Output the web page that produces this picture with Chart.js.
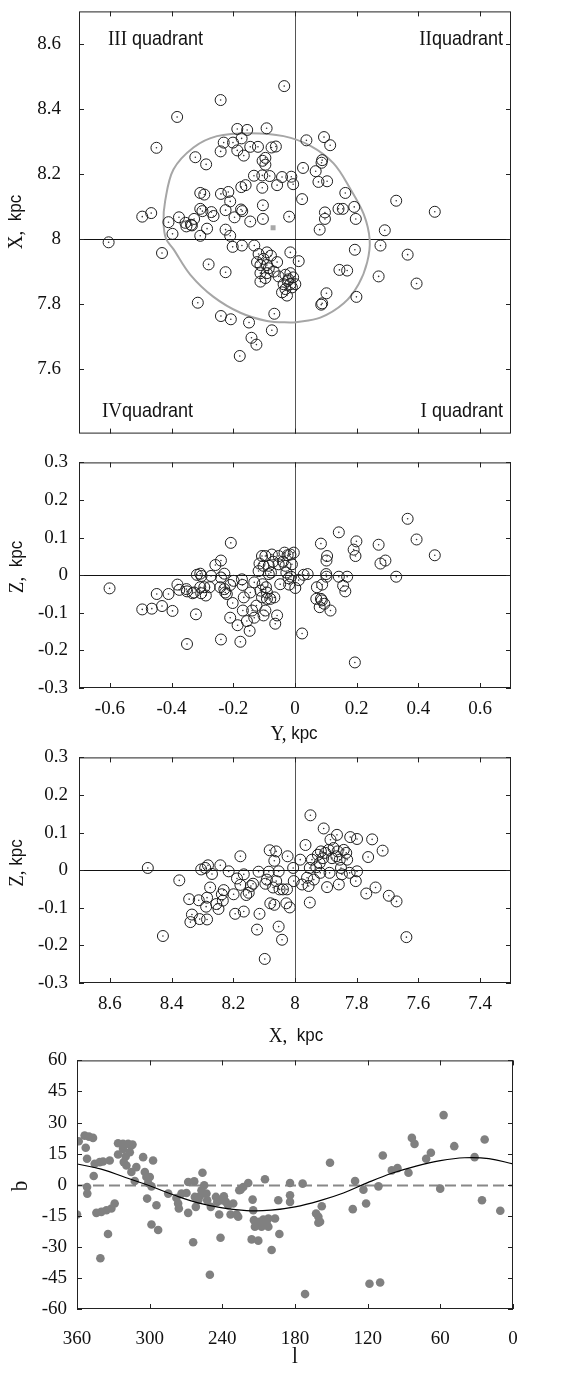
<!DOCTYPE html>
<html>
<head>
<meta charset="utf-8">
<script src="https://cdn.jsdelivr.net/npm/chart.js@4.4.1/dist/chart.umd.min.js"></script>
<style>
  body { margin: 0; background: #fff; width: 587px; height: 1380px; position: relative; overflow: hidden; }
  canvas { position: absolute; left: 0; }
</style>
</head>
<body>
<canvas id="pXY" width="587" height="481" style="top:-18px"></canvas>
<canvas id="pYZ" width="587" height="305" style="top:440px"></canvas>
<canvas id="pXZ" width="587" height="310" style="top:735px"></canvas>
<canvas id="pLB" width="587" height="341" style="top:1039px"></canvas>
<script>
/* tick labels */
var yTicks = [-0.6, -0.4, -0.2, 0, 0.2, 0.4, 0.6];
var xTicksTop = [7.6, 7.8, 8, 8.2, 8.4, 8.6];
var zTicks = [-0.3, -0.2, -0.1, 0, 0.1, 0.2, 0.3];
var xTicks = [7.4, 7.6, 7.8, 8, 8.2, 8.4, 8.6];
var lTicks = [0, 60, 120, 180, 240, 300, 360];
var bTicks = [-60, -45, -30, -15, 0, 15, 30, 45, 60];

/* top panel: [Y, X] in kpc */
var yxStars = [
  [-0.035,8.47],[-0.241,8.427],[-0.382,8.375],[-0.449,8.28],[-0.187,8.338],[-0.155,8.335],[-0.092,8.34],
  [-0.173,8.309],[0.037,8.303],[0.094,8.313],[0.114,8.288],[-0.231,8.296],[-0.201,8.296],[-0.241,8.269],
  [-0.187,8.272],[-0.145,8.283],[-0.12,8.283],[-0.076,8.281],[-0.062,8.284],[-0.166,8.256],[-0.323,8.251],
  [-0.288,8.229],[-0.105,8.24],[-0.096,8.249],[-0.096,8.228],[0.088,8.242],[0.086,8.234],[0.026,8.218],
  [0.067,8.208],[0.104,8.177],[0.076,8.175],[-0.133,8.194],[-0.106,8.195],[-0.082,8.193],[-0.042,8.19],
  [-0.012,8.191],[-0.006,8.168],[-0.058,8.165],[-0.106,8.157],[-0.16,8.165],[-0.174,8.159],[-0.216,8.144],
  [-0.24,8.138],[-0.21,8.115],[-0.307,8.141],[-0.294,8.136],[-0.307,8.092],[-0.3,8.085],[-0.271,8.082],
  [-0.264,8.07],[-0.225,8.088],[-0.196,8.066],[-0.175,8.09],[-0.171,8.085],[-0.145,8.053],[-0.104,8.103],
  [-0.104,8.061],[-0.019,8.068],[0.023,8.122],[0.141,8.092],[0.155,8.092],[0.192,8.098],[0.197,8.061],
  [0.097,8.081],[0.097,8.061],[0.163,8.141],[0.328,8.117],[0.453,8.083],[-0.495,8.068],[-0.466,8.079],
  [-0.41,8.051],[-0.376,8.066],[-0.355,8.049],[-0.337,8.043],[-0.327,8.061],[-0.285,8.031],[-0.225,8.028],
  [0.08,8.028],[0.291,8.026],[-0.604,7.989],[-0.397,8.015],[-0.352,8.038],[-0.334,8.041],[-0.307,8.009],
  [-0.21,8.009],[-0.202,7.975],[-0.172,7.979],[-0.132,7.979],[0.277,7.979],[0.365,7.951],[0.394,7.862],
  [0.194,7.966],[0.144,7.904],[0.169,7.902],[0.271,7.884],[0.102,7.832],[0.088,7.801],[0.085,7.797],
  [0.199,7.821],[0.012,7.931],[-0.015,7.958],[-0.431,7.956],[-0.28,7.921],[-0.225,7.897],[-0.315,7.803],
  [-0.24,7.762],[-0.208,7.752],[-0.149,7.742],[-0.141,7.695],[-0.125,7.674],[-0.179,7.639],[-0.075,7.718],
  [-0.067,7.769],[-0.118,7.953],[-0.091,7.958],[-0.078,7.948],[-0.102,7.938],[-0.112,7.919],[-0.091,7.919],
  [-0.058,7.928],[-0.112,7.894],[-0.091,7.894],[-0.069,7.899],[-0.053,7.884],[-0.112,7.868],[-0.085,7.909],
  [-0.123,7.928],[-0.096,7.879],[-0.031,7.889],[-0.015,7.894],[-0.021,7.875],[-0.037,7.86],[-0.015,7.86],
  [0.001,7.86],[-0.031,7.845],[-0.042,7.835],[-0.026,7.825],[-0.01,7.85],[-0.024,7.87],[-0.006,7.881]
];
var yxMean = [[-0.071, 8.034]];
// read around the grey ellipse, starting and ending at its lowest point
var yxEllipse = [
  [-0.004,7.742],[-0.091,7.747],[-0.177,7.772],[-0.264,7.821],[-0.339,7.889],[-0.394,7.968],[-0.418,8.0],
  [-0.426,8.05],[-0.421,8.115],[-0.394,8.213],[-0.329,8.281],[-0.253,8.316],[-0.145,8.325],[-0.037,8.316],
  [0.05,8.286],[0.125,8.232],[0.179,8.154],[0.223,8.075],[0.242,7.997],[0.234,7.928],[0.206,7.86],
  [0.158,7.801],[0.082,7.757],[-0.004,7.742]
];

/* second panel: [Y, Z] */
var yzStars = [
  [-0.601,-0.035],[-0.495,-0.091],[-0.464,-0.089],[-0.431,-0.082],[-0.448,-0.05],[-0.41,-0.05],[-0.397,-0.095],
  [-0.381,-0.025],[-0.375,-0.039],[-0.35,-0.183],[-0.352,-0.037],[-0.332,-0.048],[-0.327,-0.046],[-0.321,-0.104],
  [-0.318,0.001],[-0.307,0.004],[-0.303,-0.002],[-0.307,-0.032],[-0.294,-0.032],[-0.289,-0.054],[-0.304,-0.048],
  [-0.272,-0.002],[-0.277,-0.032],[-0.258,0.027],[-0.24,0.039],[-0.24,-0.006],[-0.229,0.004],[-0.242,-0.032],
  [-0.226,-0.046],[-0.221,-0.05],[-0.208,0.086],[-0.21,-0.026],[-0.202,-0.074],[-0.21,-0.113],[-0.24,-0.171],
  [-0.199,-0.015],[-0.186,-0.133],[-0.177,-0.177],[-0.172,-0.011],[-0.17,-0.026],[-0.166,-0.059],[-0.169,-0.094],
  [-0.156,-0.122],[-0.147,-0.148],[-0.145,-0.046],[-0.139,-0.094],[-0.132,-0.019],[-0.132,-0.113],[-0.125,-0.081],
  [-0.118,0.011],[-0.115,0.031],[-0.107,0.051],[-0.107,-0.059],[-0.102,-0.107],[-0.096,0.051],[-0.094,-0.032],
  [-0.091,-0.063],[-0.096,-0.094],[-0.085,0.025],[-0.085,0.003],[-0.08,-0.063],[-0.075,0.055],[-0.071,0.036],
  [-0.067,-0.059],[-0.064,-0.129],[-0.058,-0.107],[-0.053,0.029],[-0.048,-0.024],[-0.039,0.036],[-0.034,0.06],
  [-0.031,0.025],[-0.028,0.007],[-0.024,0.053],[-0.021,-0.008],[-0.019,-0.025],[-0.015,0.055],[-0.013,-0.004],
  [-0.01,0.029],[-0.004,0.06],[0.001,-0.034],[0.012,-0.013],[0.023,-0.155],[0.028,0.001],[0.041,0.003],
  [0.071,-0.032],[0.069,-0.063],[0.084,0.084],[0.088,-0.025],[0.084,-0.063],[0.087,-0.067],[0.08,-0.085],
  [0.095,-0.076],[0.101,0.003],[0.104,0.051],[0.102,0.039],[0.102,-0.004],[0.115,-0.094],[0.142,0.114],
  [0.142,-0.004],[0.156,-0.028],[0.163,-0.043],[0.169,-0.004],[0.19,0.068],[0.199,0.09],[0.196,0.051],
  [0.194,-0.232],[0.271,0.081],[0.277,0.031],[0.293,0.039],[0.328,-0.004],[0.365,0.15],[0.394,0.095],
  [0.453,0.053],[-0.35,-0.043],[-0.229,-0.037],[-0.112,-0.041],[-0.105,-0.024],[-0.091,-0.046],[-0.078,0.007],
  [-0.102,0.025],[-0.053,0.051]
];

/* third panel: [X, Z] */
var xzStars = [
  [8.477,0.006],[8.428,-0.175],[8.375,-0.027],[8.343,-0.077],[8.334,-0.118],[8.339,-0.138],[8.312,-0.08],
  [8.309,-0.13],[8.304,0.002],[8.291,0.006],[8.282,0.013],[8.285,-0.073],[8.288,-0.097],[8.285,-0.131],
  [8.275,-0.046],[8.269,-0.01],[8.255,-0.09],[8.248,-0.103],[8.242,0.013],[8.237,-0.064],[8.231,-0.053],
  [8.234,-0.081],[8.215,-0.003],[8.199,-0.064],[8.194,-0.116],[8.188,-0.022],[8.177,0.037],[8.177,-0.039],
  [8.166,-0.011],[8.166,-0.11],[8.158,-0.066],[8.15,-0.06],[8.143,-0.042],[8.136,-0.036],[8.123,-0.158],
  [8.118,-0.004],[8.115,-0.116],[8.098,-0.236],[8.096,-0.036],[8.091,-0.025],[8.085,-0.004],[8.082,0.053],
  [8.08,-0.088],[8.071,-0.046],[8.067,-0.092],[8.067,0.025],[8.061,0.05],[8.061,-0.029],[8.053,-0.15],
  [8.05,-0.051],[8.042,-0.185],[8.039,-0.051],[8.028,-0.088],[8.024,0.037],[8.026,-0.051],[8.017,-0.099],
  [8.006,0.006],[8.004,-0.029],[7.983,0.028],[7.977,-0.038],[7.966,0.067],[7.961,-0.02],[7.956,-0.042],
  [7.952,0.006],[7.95,0.146],[7.952,-0.086],[7.945,0.028],[7.939,-0.025],[7.931,0.008],[7.926,0.041],
  [7.92,0.019],[7.916,0.05],[7.909,0.032],[7.907,0.111],[7.902,0.046],[7.896,-0.045],[7.891,0.054],
  [7.885,0.081],[7.888,-0.007],[7.88,0.032],[7.875,0.059],[7.864,0.094],[7.862,0.05],[7.858,-0.038],
  [7.855,0.028],[7.851,0.006],[7.848,-0.011],[7.842,0.054],[7.834,0.046],[7.831,0.028],[7.823,-0.007],
  [7.821,0.088],[7.803,-0.029],[7.799,-0.003],[7.799,0.083],[7.769,-0.062],[7.763,0.035],[7.75,0.082],
  [7.739,-0.046],[7.716,0.052],[7.696,-0.068],[7.671,-0.083],[7.639,-0.178],[7.866,0.037],[7.918,-0.007],
  [8.053,-0.003]
];

/* bottom panel: [l, b] in degrees */
var lbStars = [
  [358.6,21],[360,-14.4],[353.7,23.7],[350.1,23.2],[346.8,22.6],[352.8,17.8],[351.7,12.5],[351.7,-1.1],
  [351.5,-4.3],[346.2,4.2],[345.4,10.1],[341.3,10.9],[338.5,11.2],[333,11.7],[344,-13.6],[339.9,-13.1],
  [335.7,-12.3],[331.6,-11.5],[328.9,-9.1],[340.7,-35.5],[334.4,-23.8],[326.1,20],[322,19.7],[317.8,19.7],
  [314.2,19.4],[326.1,14.6],[322,17.3],[319.8,13.6],[316.4,15.7],[315.1,18.9],[321.4,10.9],[319.2,9.3],
  [315.1,6.1],[311,8.5],[312.3,1.8],[305.4,13.3],[304,6.1],[302.7,3.7],[299.9,3.7],[298.5,-0.8],[301.3,0.8],
  [302.1,-6.7],[297.2,11.7],[298.5,-19.2],[294.4,-9.9],[293,-21.9],[284.7,-4.3],[277.9,-6.4],[276.5,-9.1],
  [275.9,-11.5],[273.7,-4.3],[269.6,-4],[268.2,-13.6],[268.2,1.3],[264.1,-27.8],[263.2,1.6],[262.7,-5.9],
  [261.9,-10.7],[259.9,-7.5],[258.6,-5.6],[256.4,5.8],[257.2,-2.7],[255,-0.3],[253.1,-4.3],[252.5,-7.5],
  [250.3,-43.5],[249.5,-10.7],[245.3,-5.9],[244.2,-8.3],[242.6,-14.4],[241.5,-25.6],[240.6,-7.5],[238.7,-5.6],
  [237.1,-8.3],[235.2,-9.9],[233.2,-14.4],[231,-9.1],[228.2,-14.4],[226,-2.7],[224.9,-2.4],[222.7,-1.1],
  [218.6,0.8],[226.9,-15.5],[215,-7.2],[214.5,-12.3],[213.9,-17.1],[213.1,-20.3],[215.8,-26.4],[210.3,-27],
  [209.5,-17.9],[207.6,-20.3],[206.2,-16.8],[204.8,2.6],[203.4,-18.7],[202,-16.3],[202,-20.3],[199.3,-31.5],
  [196.5,-16.3],[193.8,-7.5],[192.9,-23.8],[184.1,0.8],[184.1,-5.1],[184.1,-8.3],[173.7,0.5],[171.7,-52.8],
  [162.6,-13.9],[160.7,-15.5],[159.3,-17.9],[160.7,-18.4],[157.9,-10.4],[151.1,10.6],[132.3,-11.8],[130.4,1.8],
  [123.5,-2.4],[121.3,-9.1],[118.5,-47.8],[111.1,-0.8],[109.7,-47.2],[107.5,14.1],[100.1,6.9],[95.4,8],
  [86.3,5.8],[83.5,22.6],[81.3,19.7],[71.7,12.5],[67.8,15.4],[60.1,-1.9],[57.3,33.6],[48.5,18.6],[31.7,13.3],
  [25.6,-7.5],[23.4,21.8],[10.5,-12.6]
];
var lCurve = [360, 340, 320, 300, 280, 260, 240, 220, 200, 180, 160, 140, 120, 100, 80, 60, 40, 20, 0];
var bCurve = [10, 7.5, 3.5, -0.5, -5, -8.8, -11.2, -12.5, -12.3, -10.7, -7.8, -4, 1, 5.5, 9, 11.6, 13, 12.6, 10];

var SERIF = '"Liberation Serif", "Times New Roman", serif';
var SANS = '"Liberation Sans", Arial, sans-serif';

function pts(a) { return a.map(function (p) { return { x: p[0], y: p[1] }; }); }

function drawParts(c, t, top) {
  c.save();
  c.translate(t.x, t.y - top);
  if (t.rot) c.rotate(-Math.PI / 2);
  c.scale(1, 1.12);
  c.fillStyle = '#111';
  c.textBaseline = t.base || 'alphabetic';
  var w = 0;
  t.parts.forEach(function (p) { c.font = p[1]; w += c.measureText(p[0]).width; });
  var x = t.align === 'right' ? -w : t.align === 'center' ? -w / 2 : 0;
  t.parts.forEach(function (p) {
    c.font = p[1];
    c.textAlign = 'left';
    c.fillText(p[0], x, 0);
    x += c.measureText(p[0]).width;
  });
  c.restore();
}

var frame = {
  id: 'frame',
  beforeDatasetsDraw: function (chart, args, o) {
    var a = chart.chartArea, c = chart.ctx, sx = chart.scales.x, sy = chart.scales.y;
    c.save();
    if (o.vAt != null) {
      var px = Math.round(sx.getPixelForValue(o.vAt)) + 0.5;
      c.strokeStyle = '#555'; c.lineWidth = 1;
      c.beginPath(); c.moveTo(px, a.top); c.lineTo(px, a.bottom); c.stroke();
    }
    if (o.hAt != null) {
      var py = Math.round(sy.getPixelForValue(o.hAt)) + 0.5;
      if (o.hDash) { c.setLineDash([11, 5]); c.strokeStyle = '#888'; c.lineWidth = 2; }
      else { c.strokeStyle = '#111'; c.lineWidth = 1; }
      c.beginPath(); c.moveTo(a.left, py); c.lineTo(a.right, py); c.stroke();
    }
    c.restore();
  },
  afterDraw: function (chart, args, o) {
    var a = chart.chartArea, c = chart.ctx, sx = chart.scales.x, sy = chart.scales.y;
    var tl = 5;
    c.save();
    c.strokeStyle = '#222'; c.lineWidth = 1;
    c.strokeRect(a.left + 0.5, a.top + 0.5, a.right - a.left - 1, a.bottom - a.top - 1);
    c.beginPath();
    sx.ticks.forEach(function (t) {
      var px = Math.round(sx.getPixelForValue(t.value)) + 0.5;
      c.moveTo(px, a.bottom); c.lineTo(px, a.bottom - tl);
      c.moveTo(px, a.top); c.lineTo(px, a.top + tl);
    });
    sy.ticks.forEach(function (t) {
      var py = Math.round(sy.getPixelForValue(t.value)) + 0.5;
      c.moveTo(a.left, py); c.lineTo(a.left + tl, py);
      c.moveTo(a.right, py); c.lineTo(a.right - tl, py);
    });
    c.stroke();
    c.restore();
    (o.texts || []).forEach(function (t) { drawParts(c, t, o.top); });
  }
};

function fixTicks(list) {
  return function (s) { s.ticks = list.map(function (v) { return { value: v }; }); };
}

function axis(min, max, list, opts) {
  return {
    type: 'linear', min: min, max: max, reverse: !!opts.reverse,
    afterBuildTicks: fixTicks(list),
    afterFit: function (s) { if (opts.w != null) s.width = opts.w; if (opts.h != null) s.height = opts.h; },
    grid: { display: false, drawTicks: false },
    border: { display: false },
    ticks: {
      display: opts.show !== false, autoSkip: false, maxRotation: 0, padding: opts.pad,
      color: '#111', font: { family: SERIF, size: 19 },
      callback: function (v) { return String(v); }
    }
  };
}

function circles(data) {
  return [
    { data: pts(data), pointRadius: 0.8, pointBackgroundColor: '#333', pointBorderWidth: 0 },
    { data: pts(data), pointRadius: 5.5, pointBackgroundColor: 'rgba(0,0,0,0)', pointBorderColor: '#1e1e1e', pointBorderWidth: 1 }
  ];
}

function makeChart(id, top, datasets, scales, padRight, o) {
  o.top = top;
  return new Chart(document.getElementById(id), {
    type: 'scatter',
    data: { datasets: datasets },
    options: {
      responsive: false, animation: false, events: [],
      layout: { padding: { top: 20, left: 0, right: padRight, bottom: 0 } },
      plugins: { legend: { display: false }, tooltip: { enabled: false }, frame: o },
      scales: scales
    },
    plugins: [frame]
  });
}

/* panel 1: X vs Y */
makeChart('pXY', -18,
  circles(yxStars).concat([
    { data: pts(yxMean), pointStyle: 'rect', pointRadius: 3.5, pointBackgroundColor: '#a8a8a8', pointBorderWidth: 0 },
    { data: pts(yxEllipse), showLine: true, tension: 0.35, borderColor: '#a6a6a6', borderWidth: 2, pointRadius: 0, fill: false }
  ]),
  {
    x: axis(-0.7, 0.7, yTicks, { h: 20, show: false, pad: 0 }),
    y: axis(7.4, 8.7, xTicksTop, { w: 79, pad: 18 })
  }, 76,
  { vAt: 0, hAt: 8, texts: [
    { parts: [['III', '19px ' + SERIF], [' quadrant', '18px ' + SANS]], x: 108, y: 45, align: 'left' },
    { parts: [['II', '19px ' + SERIF], ['quadrant', '18px ' + SANS]], x: 503, y: 45, align: 'right' },
    { parts: [['IV', '19px ' + SERIF], ['quadrant', '18px ' + SANS]], x: 102, y: 417, align: 'left' },
    { parts: [['I', '19px ' + SERIF], [' quadrant', '18px ' + SANS]], x: 503, y: 417, align: 'right' },
    { parts: [['X,', '19px ' + SERIF], ['  kpc', '17px ' + SANS]], x: 16, y: 222, align: 'center', rot: true, base: 'middle' }
  ] });

/* panel 2: Z vs Y */
makeChart('pYZ', 440, circles(yzStars),
  {
    x: axis(-0.7, 0.7, yTicks, { h: 57, pad: 10 }),
    y: axis(-0.3, 0.3, zTicks, { w: 79, pad: 11 })
  }, 76,
  { vAt: 0, hAt: 0, texts: [
    { parts: [['Z,', '19px ' + SERIF], ['  kpc', '17px ' + SANS]], x: 17, y: 567, align: 'center', rot: true, base: 'middle' },
    { parts: [['Y,', '19px ' + SERIF], [' kpc', '17px ' + SANS]], x: 294, y: 734, align: 'center', base: 'middle' }
  ] });

/* panel 3: Z vs X */
makeChart('pXZ', 735, circles(xzStars),
  {
    x: axis(7.3, 8.7, xTicks, { h: 62, pad: 10, reverse: true }),
    y: axis(-0.3, 0.3, zTicks, { w: 79, pad: 11 })
  }, 76,
  { vAt: 8, hAt: 0, texts: [
    { parts: [['Z,', '19px ' + SERIF], [' kpc', '17px ' + SANS]], x: 17, y: 863, align: 'center', rot: true, base: 'middle' },
    { parts: [['X,', '19px ' + SERIF], ['  kpc', '17px ' + SANS]], x: 296, y: 1036, align: 'center', base: 'middle' }
  ] });

/* panel 4: b vs l */
makeChart('pLB', 1039,
  [
    { data: lCurve.map(function (l, i) { return { x: l, y: bCurve[i] }; }), showLine: true, tension: 0.4,
      borderColor: '#000', borderWidth: 1.2, pointRadius: 0, fill: false },
    { data: pts(lbStars), pointRadius: 4.3, pointBackgroundColor: '#808080', pointBorderWidth: 0 }
  ],
  {
    x: axis(0, 360, lTicks, { h: 71, pad: 19, reverse: true }),
    y: axis(-60, 60, bTicks, { w: 77, pad: 10 })
  }, 74,
  { hAt: 0, hDash: true, texts: [
    { parts: [['b', '21px ' + SERIF]], x: 21, y: 1186, align: 'center', rot: true, base: 'middle' },
    { parts: [['l', '21px ' + SERIF]], x: 295, y: 1357, align: 'center', base: 'middle' }
  ] });
</script>
</body>
</html>
